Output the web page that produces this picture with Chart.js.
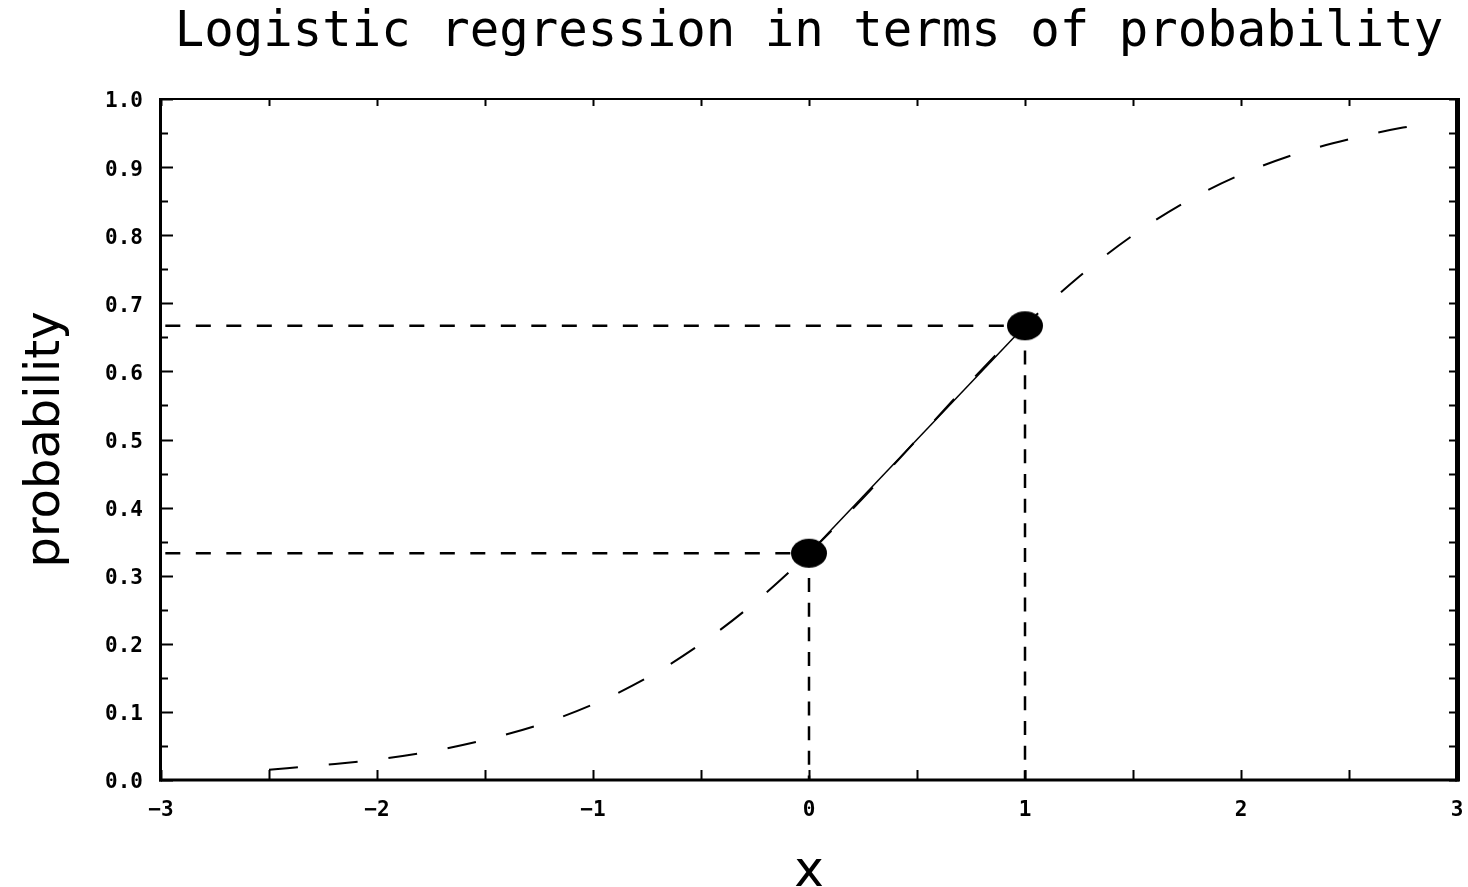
<!DOCTYPE html>
<html>
<head>
<meta charset="utf-8">
<title>Logistic regression in terms of probability</title>
<script src="https://cdn.jsdelivr.net/npm/chart.js@4.4.1/dist/chart.umd.min.js"></script>
<style>
  html, body { margin: 0; padding: 0; background: #fff; }
  canvas { display: block; }
</style>
</head>
<body>
<canvas id="logitChart" width="1468" height="887"></canvas>
<script>
// --- data ---
// fitted curve: probability at each x
var curveX = [-2.5, -2.25, -2.0, -1.75, -1.5, -1.25, -1.0, -0.75, -0.5, -0.25, 0.0,
              0.25, 0.5, 0.75, 1.0, 1.25, 1.5, 1.75, 2.0, 2.25, 2.5, 2.75, 2.85];
var curveP = [0.015, 0.022, 0.030, 0.042, 0.059, 0.081, 0.111, 0.150, 0.200, 0.261, 0.333,
              0.414, 0.500, 0.586, 0.667, 0.739, 0.800, 0.850, 0.889, 0.919, 0.941, 0.958, 0.963];

// the two marked observations
var pointX = [0, 1];
var pointP = [0.333, 0.667];

// where the horizontal guides start
var guideStartX = -2.98;

// axis ticks
var xTickLabels = [-3, -2, -1, 0, 1, 2, 3];
var xMinorTicks = [-2.5, -1.5, -0.5, 0.5, 1.5, 2.5];
var yTickLabels = [0.0, 0.1, 0.2, 0.3, 0.4, 0.5, 0.6, 0.7, 0.8, 0.9, 1.0];
var yMinorTicks = [0.05, 0.15, 0.25, 0.35, 0.45, 0.55, 0.65, 0.75, 0.85, 0.95];

// --- build datasets ---
var curveData = curveX.map(function(x, i) { return { x: x, y: curveP[i] }; });
var segmentData = pointX.map(function(x, i) { return { x: x, y: pointP[i] }; });

// filled oval marker
var dot = document.createElement('canvas');
dot.width = 38; dot.height = 31;
var dctx = dot.getContext('2d');
dctx.fillStyle = '#000';
dctx.beginPath();
dctx.ellipse(19, 15.5, 18, 14.5, 0, 0, Math.PI * 2);
dctx.fill();

var datasets = [
  {
    label: 'points',
    data: segmentData,
    showLine: false,
    pointStyle: dot,
    pointRadius: 16,
    order: 0
  },
  {
    label: 'segment',
    data: segmentData,
    showLine: true,
    borderColor: '#000',
    borderWidth: 1.5,
    pointRadius: 0,
    order: 1
  },
  {
    label: 'curve',
    data: curveData,
    showLine: true,
    borderColor: '#000',
    borderWidth: 2,
    borderDash: [29, 31],
    cubicInterpolationMode: 'monotone',
    pointRadius: 0,
    order: 2
  }
];

// dashed guides from each point to both axes
pointX.forEach(function(x, i) {
  datasets.push({
    label: 'h' + i,
    data: [{ x: guideStartX, y: pointP[i] }, { x: x, y: pointP[i] }],
    showLine: true,
    borderColor: '#000',
    borderWidth: 2.5,
    borderDash: [15, 15.5],
    pointRadius: 0,
    order: 3
  });
  datasets.push({
    label: 'v' + i,
    data: [{ x: x, y: pointP[i] }, { x: x, y: 0 }],
    showLine: true,
    borderColor: '#000',
    borderWidth: 2.5,
    borderDash: [14, 10.7],
    pointRadius: 0,
    order: 3
  });
});

// box frame with inward tick marks on all four sides
var frameTicks = {
  id: 'frameTicks',
  afterDraw: function(chart) {
    var ctx = chart.ctx, a = chart.chartArea;
    var xs = chart.scales.x, ys = chart.scales.y;
    ctx.save();
    ctx.strokeStyle = '#000';
    ctx.lineCap = 'butt';

    ctx.lineWidth = 2;
    xTickLabels.concat(xMinorTicks).forEach(function(v) {
      var px = Math.round(xs.getPixelForValue(v)) + 0.5;
      ctx.beginPath();
      ctx.moveTo(px, a.bottom); ctx.lineTo(px, a.bottom - 10);
      ctx.moveTo(px, a.top); ctx.lineTo(px, a.top + 7);
      ctx.stroke();
    });
    yTickLabels.forEach(function(v) {
      var py = Math.round(ys.getPixelForValue(v)) + 0.5;
      ctx.beginPath();
      ctx.moveTo(a.left, py); ctx.lineTo(a.left + 12, py);
      ctx.moveTo(a.right, py); ctx.lineTo(a.right - 8, py);
      ctx.stroke();
    });
    yMinorTicks.forEach(function(v) {
      var py = Math.round(ys.getPixelForValue(v)) + 0.5;
      ctx.beginPath();
      ctx.moveTo(a.left, py); ctx.lineTo(a.left + 7, py);
      ctx.moveTo(a.right, py); ctx.lineTo(a.right - 8, py);
      ctx.stroke();
    });

    // frame: thin top, heavier left/bottom, heaviest right
    ctx.lineWidth = 2;
    ctx.beginPath(); ctx.moveTo(a.left, a.top); ctx.lineTo(a.right, a.top); ctx.stroke();
    ctx.lineWidth = 3;
    ctx.beginPath(); ctx.moveTo(a.left - 0.5, a.top - 1); ctx.lineTo(a.left - 0.5, a.bottom + 1.5); ctx.stroke();
    ctx.beginPath(); ctx.moveTo(a.left - 2, a.bottom); ctx.lineTo(a.right + 2, a.bottom); ctx.stroke();
    ctx.lineWidth = 5;
    ctx.beginPath(); ctx.moveTo(a.right + 0.5, a.top - 1); ctx.lineTo(a.right + 0.5, a.bottom + 1.5); ctx.stroke();
    ctx.restore();
  }
};

// keep the end tick labels from pulling the plot edges in
function noEdgePadding(scale) {
  scale.paddingLeft = 0;
  scale.paddingRight = 0;
  scale.paddingTop = 0;
  scale.paddingBottom = 0;
}

var tickFont = { family: 'DejaVu Sans Mono', size: 21, weight: 'bold' };

new Chart(document.getElementById('logitChart'), {
  type: 'scatter',
  data: { datasets: datasets },
  plugins: [frameTicks],
  options: {
    responsive: false,
    animation: false,
    devicePixelRatio: 1,
    layout: { autoPadding: false, padding: { left: 0, right: 11, top: 0, bottom: 0 } },
    plugins: {
      legend: { display: false },
      tooltip: { enabled: false },
      title: {
        display: true,
        text: 'Logistic regression in terms of probability',
        color: '#000',
        fullSize: false,
        font: { family: 'DejaVu Sans Mono', size: 49, weight: 'normal', lineHeight: 1.2 },
        padding: { top: 3.6, bottom: 36.6 }
      }
    },
    scales: {
      x: {
        type: 'linear',
        min: -3,
        max: 3,
        grid: { display: false, drawTicks: false },
        border: { display: false },
        afterBuildTicks: function(scale) {
          scale.ticks = xTickLabels.map(function(v) { return { value: v }; });
        },
        afterFit: function(scale) {
          scale.height = 107;
          noEdgePadding(scale);
        },
        ticks: {
          color: '#000',
          font: tickFont,
          padding: 18,
          maxRotation: 0,
          callback: function(v) { return v < 0 ? '\u2212' + Math.abs(v) : String(v); }
        },
        title: {
          display: true,
          text: 'x',
          color: '#000',
          font: { family: 'DejaVu Sans', size: 50, weight: 'normal', lineHeight: 0.56 },
          padding: { top: 0, bottom: 0 }
        }
      },
      y: {
        type: 'linear',
        min: 0,
        max: 1,
        grid: { display: false, drawTicks: false },
        border: { display: false },
        afterBuildTicks: function(scale) {
          scale.ticks = yTickLabels.map(function(v) { return { value: v }; });
        },
        afterFit: function(scale) {
          scale.width = 161;
          noEdgePadding(scale);
        },
        ticks: {
          color: '#000',
          font: tickFont,
          padding: 18,
          labelOffset: 3,
          callback: function(v) { return Number(v).toFixed(1); }
        },
        title: {
          display: true,
          text: 'probability',
          color: '#000',
          font: { family: 'DejaVu Sans', size: 48, weight: 'normal', lineHeight: 1.2 },
          padding: { top: 18, bottom: 0 }
        }
      }
    }
  }
});
</script>
</body>
</html>
